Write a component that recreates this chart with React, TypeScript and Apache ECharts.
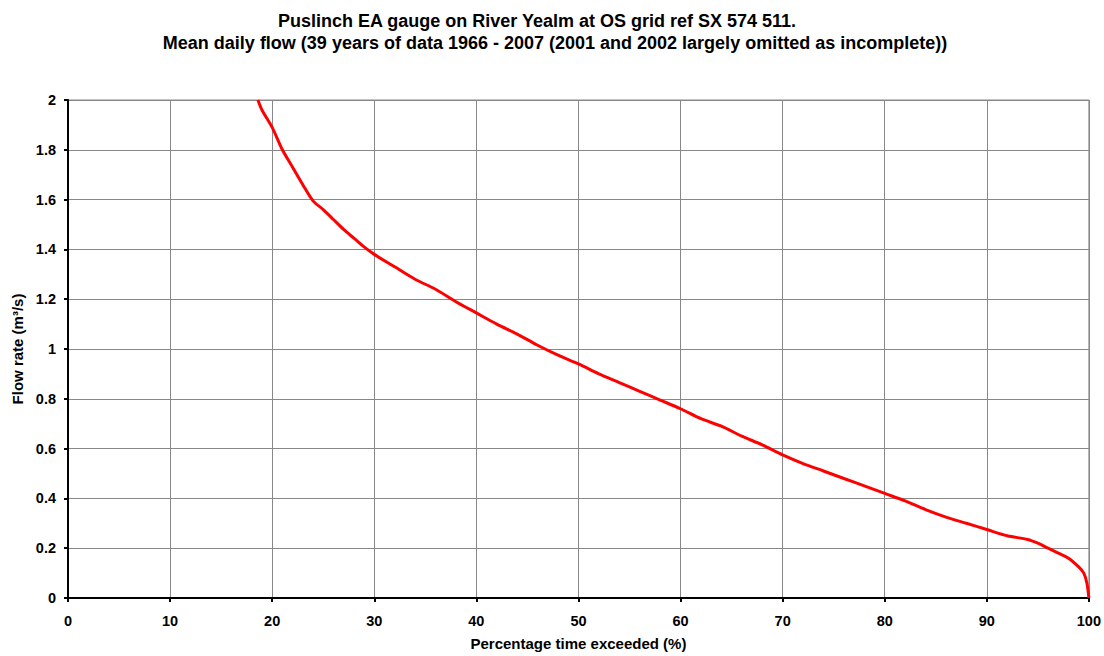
import React, { useEffect, useRef } from "react";
import * as echarts from "echarts";

const percentExceeded = [18.6, 19, 20, 21, 22, 23, 24, 25, 26, 27, 28, 29, 30, 32, 34, 36, 38, 40, 42, 44, 46, 48, 50, 52, 54, 56, 58, 60, 62, 64, 66, 68, 70, 72, 74, 76, 78, 80, 82, 84, 86, 88, 90, 92, 94, 95, 96, 97, 98, 99, 99.5, 99.8, 100];
const flowRate = [2.0, 1.96, 1.89, 1.8, 1.73, 1.66, 1.595, 1.56, 1.52, 1.48, 1.445, 1.41, 1.38, 1.33, 1.28, 1.24, 1.19, 1.145, 1.1, 1.06, 1.015, 0.975, 0.94, 0.9, 0.865, 0.83, 0.795, 0.76, 0.72, 0.69, 0.65, 0.615, 0.575, 0.54, 0.51, 0.48, 0.45, 0.42, 0.39, 0.355, 0.325, 0.3, 0.275, 0.25, 0.235, 0.22, 0.2, 0.18, 0.16, 0.125, 0.1, 0.06, 0];

const titleLines = [
  "Puslinch EA gauge on River Yealm at OS grid ref SX 574 511.",
  "Mean daily flow (39 years of data 1966 - 2007 (2001 and 2002 largely omitted as incomplete))",
];
const xAxisName = "Percentage time exceeded (%)";
const yAxisName = "Flow rate (m³/s)";

export default function App() {
  const ref = useRef<HTMLDivElement>(null);
  useEffect(() => {
    if (!ref.current) return;
    const chart = echarts.init(ref.current, null, { renderer: "svg" });
    const font = "Arial, 'Liberation Sans', sans-serif";
    const titleStyle = { fontFamily: font, fontSize: 18, fontWeight: "bold", fill: "#000", align: "center", verticalAlign: "middle" };
    chart.setOption({
      animation: false,
      backgroundColor: "#ffffff",
      graphic: [
        { type: "text", x: 537, y: 21, style: { ...titleStyle, text: titleLines[0] } },
        { type: "text", x: 555, y: 43, style: { ...titleStyle, text: titleLines[1] } },
      ],
      grid: {
        left: 68,
        right: 14,
        top: 100,
        bottom: 58,
        show: true,
        borderColor: "#888888",
        borderWidth: 1,
        containLabel: false,
      },
      xAxis: {
        type: "value",
        min: 0,
        max: 100,
        interval: 10,
        name: xAxisName,
        nameLocation: "middle",
        nameGap: 38,
        nameTextStyle: { fontFamily: font, fontSize: 15, fontWeight: "bold", color: "#000" },
        axisLine: { show: true, lineStyle: { color: "#000", width: 2 } },
        axisTick: { show: true, length: 4, lineStyle: { color: "#000", width: 2 } },
        axisLabel: { fontFamily: font, fontSize: 14.5, fontWeight: "bold", color: "#000", margin: 15 },
        splitLine: { show: true, lineStyle: { color: "#888888", width: 1 } },
      },
      yAxis: {
        type: "value",
        min: 0,
        max: 2,
        interval: 0.2,
        name: yAxisName,
        nameLocation: "middle",
        nameGap: 43,
        nameTextStyle: { fontFamily: font, fontSize: 15, fontWeight: "bold", color: "#000" },
        axisLine: { show: true, lineStyle: { color: "#000", width: 2 } },
        axisTick: { show: true, length: 4, lineStyle: { color: "#000", width: 2 } },
        axisLabel: {
          fontFamily: font,
          fontSize: 14.5,
          fontWeight: "bold",
          color: "#000",
          margin: 12,
          formatter: (v: number) => String(Math.round(v * 10) / 10),
        },
        splitLine: { show: true, lineStyle: { color: "#888888", width: 1 } },
      },
      series: [
        {
          type: "line",
          data: percentExceeded.map((p, i) => [p, flowRate[i]]),
          showSymbol: false,
          smooth: 0.3,
          lineStyle: { color: "#ff0000", width: 3 },
          itemStyle: { color: "#ff0000" },
          clip: true,
        },
      ],
    });
    return () => chart.dispose();
  }, []);
  return <div ref={ref} style={{ width: 1104, height: 656, position: "absolute", left: 0, top: 0 }} />;
}
